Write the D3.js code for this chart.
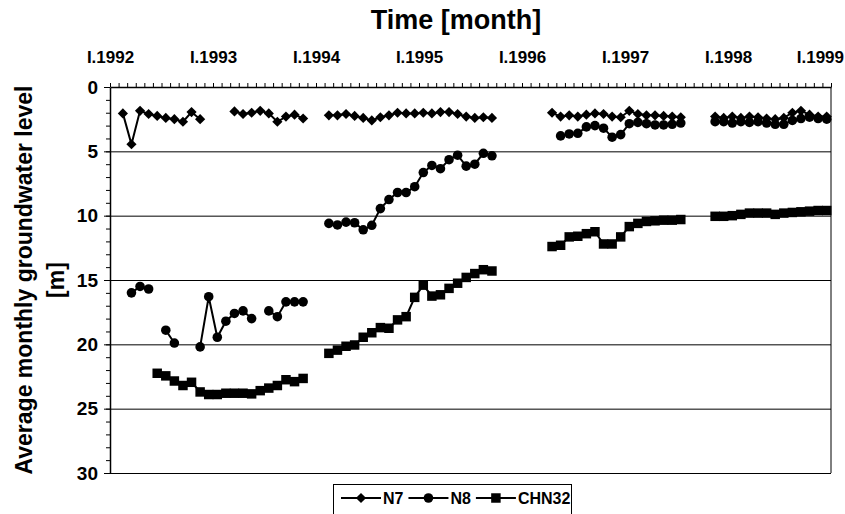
<!DOCTYPE html>
<html>
<head>
<meta charset="utf-8">
<script src="https://cdn.jsdelivr.net/npm/d3@7"></script>
<style>
    body { margin: 0; background: #fff; }
    svg { display: block; font-family: "Liberation Sans", Arial, sans-serif; font-weight: bold; }
    .axis path, .axis line { stroke: #000; }
    .grid line { stroke: #000; stroke-width: 1; }
    .grid path { display: none; }
    .series { fill: none; stroke: #000; stroke-width: 2; }
</style>
</head>
<body>
<div id="chart"></div>
<script>
// month index counted from January 1992
const yearTicks = [0, 12, 24, 36, 48, 60, 72, 84];
const yearLabels = ["I.1992", "I.1993", "I.1994", "I.1995", "I.1996", "I.1997", "I.1998", "I.1999"];
const depthTicks = [0, 5, 10, 15, 20, 25, 30];
const seriesNames = ["N7", "N8", "CHN32"];

// each run: first month index, then monthly values (null = no reading)
const n7 = [
    { start: 1, values: [2.05, 4.45, 1.85, 2.1, 2.25, 2.4, 2.5, 2.7, 1.95, 2.5] },
    { start: 14, values: [1.9, 2.1, 2.0, 1.85, 2.05, 2.7, 2.3, 2.15, 2.45] },
    { start: 25, values: [2.2, 2.2, 2.1, 2.25, 2.4, 2.6, 2.35, 2.2, 2.0, 2.05, 2.05, 2.0, 2.05, 1.95, 1.95, 2.1, 2.3, 2.4, 2.35, 2.4] },
    { start: 51, values: [2.0, 2.3, 2.2, 2.3, 2.15, 2.05, 2.1, 2.3, 2.35, 1.85, 2.1, 2.2, 2.2, 2.25, 2.3, 2.35] },
    { start: 70, values: [2.3, 2.4, 2.3, 2.4, 2.3, 2.35, 2.45, 2.5, 2.4, 2.0, 1.85, 2.15, 2.3, 2.3] }
];
const n8 = [
    { start: 2, values: [16.0, 15.5, 15.7, null, 18.9, 19.9] },
    { start: 10, values: [20.2, 16.3, 19.45, 18.2, 17.6, 17.4, 18.0, null, 17.4, 17.85, 16.7, 16.7, 16.7] },
    { start: 25, values: [10.6, 10.72, 10.5, 10.55, 11.1, 10.75, 9.45, 8.75, 8.2, 8.2, 7.75, 6.65, 6.1, 6.35, 5.65, 5.3, 6.15, 6.0, 5.15, 5.35] },
    { start: 52, values: [3.8, 3.65, 3.6, 3.1, 3.0, 3.2, 3.9, 3.7, 2.85, 2.75, 2.85, 2.95, 2.95, 2.9, 2.8] },
    { start: 70, values: [2.7, 2.7, 2.8, 2.7, 2.75, 2.7, 2.8, 2.9, 2.9, 2.6, 2.45, 2.35, 2.45, 2.5] }
];
const chn32 = [
    { start: 5, values: [22.25, 22.45, 22.85, 23.2, 22.95, 23.7, 23.9, 23.9, 23.8, 23.8, 23.8, 23.85, 23.6, 23.4, 23.2, 22.75, 22.9, 22.65] },
    { start: 25, values: [20.7, 20.45, 20.15, 20.05, 19.45, 19.1, 18.7, 18.75, 18.1, 17.85, 16.35, 15.4, 16.25, 16.15, 15.65, 15.25, 14.8, 14.5, 14.2, 14.3] },
    { start: 51, values: [12.4, 12.3, 11.65, 11.6, 11.4, 11.25, 12.2, 12.2, 11.65, 10.85, 10.6, 10.45, 10.4, 10.35, 10.35, 10.3] },
    { start: 70, values: [10.05, 10.05, 10.0, 9.9, 9.8, 9.8, 9.8, 9.9, 9.8, 9.75, 9.7, 9.65, 9.6, 9.6] }
];

const width = 845, height = 514;
const margin = { top: 87, right: 14, bottom: 41, left: 110 };

const svg = d3.select("#chart").append("svg")
    .attr("width", width)
    .attr("height", height);

const x = d3.scaleLinear().domain([0, 84]).range([margin.left, width - margin.right]);
const y = d3.scaleLinear().domain([0, 30]).range([margin.top, height - margin.bottom]);

// horizontal grid
svg.append("g")
    .attr("class", "grid")
    .attr("transform", `translate(${margin.left},0)`)
    .call(d3.axisRight(y).tickValues([5, 10, 15, 20, 25, 30]).tickSize(x.range()[1] - margin.left).tickFormat(""));

// right border
svg.append("line")
    .attr("x1", x(84)).attr("x2", x(84))
    .attr("y1", y(0)).attr("y2", y(30))
    .attr("stroke", "#000");

// top axis: monthly ticks
svg.append("g")
    .attr("class", "axis")
    .attr("transform", `translate(0,${margin.top})`)
    .call(d3.axisTop(x).tickValues(d3.range(0, 85)).tickSize(4).tickSizeOuter(0).tickFormat(""))
    .select(".domain").attr("stroke-width", 1.5);

// year labels
const yearText = svg.append("g")
    .attr("transform", `translate(0,${margin.top})`)
    .call(d3.axisTop(x).tickValues(yearTicks).tickSize(0).tickPadding(24).tickFormat((d, i) => yearLabels[i]))
    .call(g => g.select(".domain").remove())
    .selectAll("text")
    .attr("font-size", 17).attr("font-weight", "bold").attr("font-family", "Liberation Sans, Arial, sans-serif")
    .attr("fill", "#000");

// keep the last label inside the picture, like the original does
yearText.each(function () {
    const b = this.getBBox();
    const tx = this.parentNode.transform.baseVal.consolidate().matrix.e;
    const over = tx + b.x + b.width - (width - 1);
    if (over > 0) d3.select(this).attr("x", -over);
});

// left axis
const yAxis = svg.append("g")
    .attr("class", "axis")
    .attr("transform", `translate(${margin.left},0)`)
    .call(d3.axisLeft(y).tickValues(d3.range(0, 31)).tickSize(4).tickSizeOuter(0).tickFormat(""));
yAxis.select(".domain").attr("stroke-width", 1.5);

svg.append("g")
    .attr("transform", `translate(${margin.left},0)`)
    .call(d3.axisLeft(y).tickValues(depthTicks).tickSize(6).tickPadding(6))
    .call(g => g.select(".domain").remove())
    .call(g => g.selectAll("line").attr("stroke", "#000"))
    .selectAll("text")
    .attr("font-size", 19).attr("font-weight", "bold").attr("font-family", "Liberation Sans, Arial, sans-serif")
    .attr("fill", "#000");

// titles
svg.append("text")
    .attr("x", 456)
    .attr("y", 29)
    .attr("text-anchor", "middle")
    .attr("font-size", 27)
    .text("Time [month]");

const yTitle = svg.append("text")
    .attr("transform", `translate(32,${(y(0) + y(30)) / 2}) rotate(-90)`)
    .attr("text-anchor", "middle")
    .attr("font-size", 23);
yTitle.append("tspan").attr("x", 0).attr("dy", 0).text("Average monthly groundwater level");
yTitle.append("tspan").attr("x", 0).attr("dy", 32).text("[m]");

// series
function points(runs) {
    const out = [];
    runs.forEach(r => {
        r.values.forEach((v, i) => out.push({ m: r.start + i, v: v }));
        out.push({ m: null, v: null }); // break between runs
    });
    return out;
}

const line = d3.line()
    .defined(d => d.v != null)
    .x(d => x(d.m + 0.5))
    .y(d => y(d.v));

const marker = [
    d3.symbol().type(d3.symbolSquare).size(52),  // drawn rotated 45 deg -> diamond
    d3.symbol().type(d3.symbolCircle).size(72),
    d3.symbol().type(d3.symbolSquare).size(90)
];

function drawSeries(runs, k) {
    const data = points(runs);
    svg.append("path")
        .datum(data)
        .attr("class", "series")
        .attr("d", line);
    svg.append("g").selectAll("path")
        .data(data.filter(d => d.v != null))
        .enter().append("path")
        .attr("transform", d => `translate(${x(d.m + 0.5)},${y(d.v)})` + (k === 0 ? " rotate(45)" : ""))
        .attr("d", marker[k]())
        .attr("fill", "#000");
}

drawSeries(n7, 0);
drawSeries(n8, 1);
drawSeries(chn32, 2);

// legend
const legend = svg.append("g");
legend.append("rect")
    .attr("x", 333.5).attr("y", 484.5)
    .attr("width", 238).attr("height", 40)
    .attr("fill", "#fff").attr("stroke", "#000");

let lx = 341;
seriesNames.forEach((name, k) => {
    const g = legend.append("g").attr("transform", `translate(${lx},498)`);
    g.append("line").attr("x1", 0).attr("x2", 40).attr("stroke", "#000").attr("stroke-width", 2);
    g.append("path")
        .attr("transform", "translate(20,0)" + (k === 0 ? " rotate(45)" : ""))
        .attr("d", marker[k]())
        .attr("fill", "#000");
    const t = g.append("text")
        .attr("x", 42).attr("y", 6)
        .attr("font-size", 16)
        .text(name);
    lx += 42 + t.node().getComputedTextLength() + 5;
});
</script>
</body>
</html>
